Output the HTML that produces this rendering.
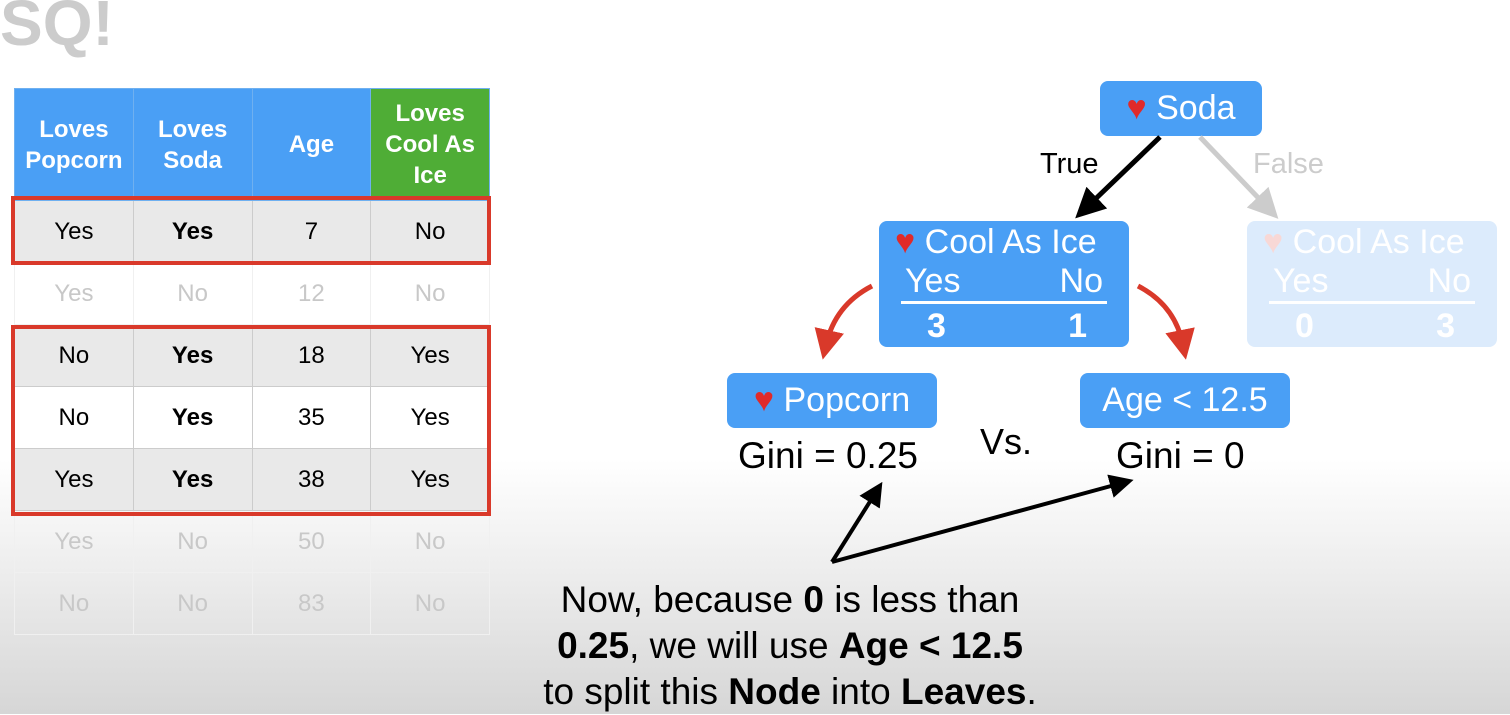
<!DOCTYPE html><html><head><style>
body{margin:0;width:1510px;height:714px;overflow:hidden;background:#fff;font-family:"Liberation Sans",sans-serif;position:relative}
.bg{position:absolute;left:0;top:460px;width:1510px;height:254px;background:linear-gradient(#fff,#d6d6d6)}
table{position:absolute;left:14px;top:88px;border-collapse:collapse;table-layout:fixed;width:476px}
td{height:61px;text-align:center;font-size:24px;border:1px solid #ccc;padding:0}
th{height:111px;color:#fff;background:#4a9ff5;font-size:24px;line-height:31px;border:1px solid #6fb0f0;padding:0}
th.g{background:#4fad36}
.gr td{background:#e9e9e9}
.f td{color:#c8c8c8;border-color:#f0f0f0;background:transparent}
.rb{position:absolute;border:4px solid #d9392a;box-sizing:border-box}
.box{position:absolute;background:#4a9ff5;border-radius:8px;color:#fff;font-size:34px}
.t{position:absolute;font-size:32px;white-space:nowrap}
</style></head><body>
<div class="bg"></div>
<table>
<tr><th>Loves<br>Popcorn</th><th>Loves<br>Soda</th><th>Age</th><th class="g">Loves<br>Cool As<br>Ice</th></tr>
<tr class="gr"><td>Yes</td><td><b>Yes</b></td><td>7</td><td>No</td></tr>
<tr class="f"><td>Yes</td><td>No</td><td>12</td><td>No</td></tr>
<tr class="gr"><td>No</td><td><b>Yes</b></td><td>18</td><td>Yes</td></tr>
<tr><td>No</td><td><b>Yes</b></td><td>35</td><td>Yes</td></tr>
<tr class="gr"><td>Yes</td><td><b>Yes</b></td><td>38</td><td>Yes</td></tr>
<tr class="f"><td>Yes</td><td>No</td><td>50</td><td>No</td></tr>
<tr class="f"><td>No</td><td>No</td><td>83</td><td>No</td></tr>
</table>
<div class="rb" style="left:11px;top:196px;width:480px;height:69px"></div>
<div class="rb" style="left:11px;top:325px;width:480px;height:191px"></div>
<div class="t" style="left:0;top:-14px;font-size:64px;color:#ccc;font-weight:bold">SQ!</div>

<div class="box" style="left:1100px;top:81px;width:162px;height:55px;line-height:55px;text-align:center"><span style="color:#e02a2a">♥</span> Soda</div>
<div class="box" style="left:879px;top:221px;width:250px;height:126px">
 <div style="position:absolute;left:16px;top:2px"><span style="color:#e02a2a">♥</span> Cool As Ice</div>
 <div style="position:absolute;left:26px;top:41px">Yes</div><div style="position:absolute;right:26px;top:41px">No</div>
 <div style="position:absolute;left:22px;right:22px;top:80px;border-top:3px solid #fff"></div>
 <div style="position:absolute;left:48px;top:86px;font-weight:bold">3</div><div style="position:absolute;right:42px;top:86px;font-weight:bold">1</div>
</div>
<div class="box" style="left:1247px;top:221px;width:250px;height:126px;background:#dcebfc">
 <div style="position:absolute;left:16px;top:2px"><span style="color:#f8d8d6">♥</span> Cool As Ice</div>
 <div style="position:absolute;left:26px;top:41px">Yes</div><div style="position:absolute;right:26px;top:41px">No</div>
 <div style="position:absolute;left:22px;right:22px;top:80px;border-top:3px solid #fff"></div>
 <div style="position:absolute;left:48px;top:86px;font-weight:bold">0</div><div style="position:absolute;right:42px;top:86px;font-weight:bold">3</div>
</div>
<div class="box" style="left:727px;top:373px;width:210px;height:55px;line-height:55px;text-align:center"><span style="color:#e02a2a">♥</span> Popcorn</div>
<div class="box" style="left:1080px;top:373px;width:210px;height:55px;line-height:55px;text-align:center">Age &lt; 12.5</div>
<div class="t" style="left:738px;top:435px;font-size:37px">Gini = 0.25</div>
<div class="t" style="left:1116px;top:435px;font-size:37px">Gini = 0</div>
<div class="t" style="left:980px;top:421px;font-size:36px">Vs.</div>
<div class="t" style="left:1040px;top:148px;font-size:29px">True</div>
<div class="t" style="left:1253px;top:148px;font-size:29px;color:#ccc">False</div>
<svg width="1510" height="714" style="position:absolute;left:0;top:0">
<defs>
<marker id="k" markerWidth="6" markerHeight="6" refX="3" refY="3" orient="auto"><path d="M0,0L6,3L0,6z" fill="#000"/></marker>
<marker id="g" markerWidth="6" markerHeight="6" refX="3" refY="3" orient="auto"><path d="M0,0L6,3L0,6z" fill="#ccc"/></marker>
<marker id="r" markerWidth="6" markerHeight="6" refX="3" refY="3" orient="auto"><path d="M0,0L6,3L0,6z" fill="#d9392a"/></marker>
</defs>
<g stroke-width="5" fill="none">
<path d="M1160,137L1086,208" stroke="#000" marker-end="url(#k)"/>
<path d="M1200,137L1268,208" stroke="#ccc" marker-end="url(#g)"/>
<path d="M872,286Q835,305 826,345" stroke="#d9392a" marker-end="url(#r)"/>
<path d="M1138,286Q1175,305 1183,345" stroke="#d9392a" marker-end="url(#r)"/>
<path d="M832,562L876,492" stroke="#000" stroke-width="4" marker-end="url(#k)"/>
<path d="M832,562L1122,483" stroke="#000" stroke-width="4" marker-end="url(#k)"/>
</g></svg>
<div class="t" style="left:440px;top:577px;width:700px;text-align:center;font-size:37px;line-height:46px">Now, because <b>0</b> is less than<br><b>0.25</b>, we will use <b>Age &lt; 12.5</b><br>to split this <b>Node</b> into <b>Leaves</b>.</div>
</body></html>
